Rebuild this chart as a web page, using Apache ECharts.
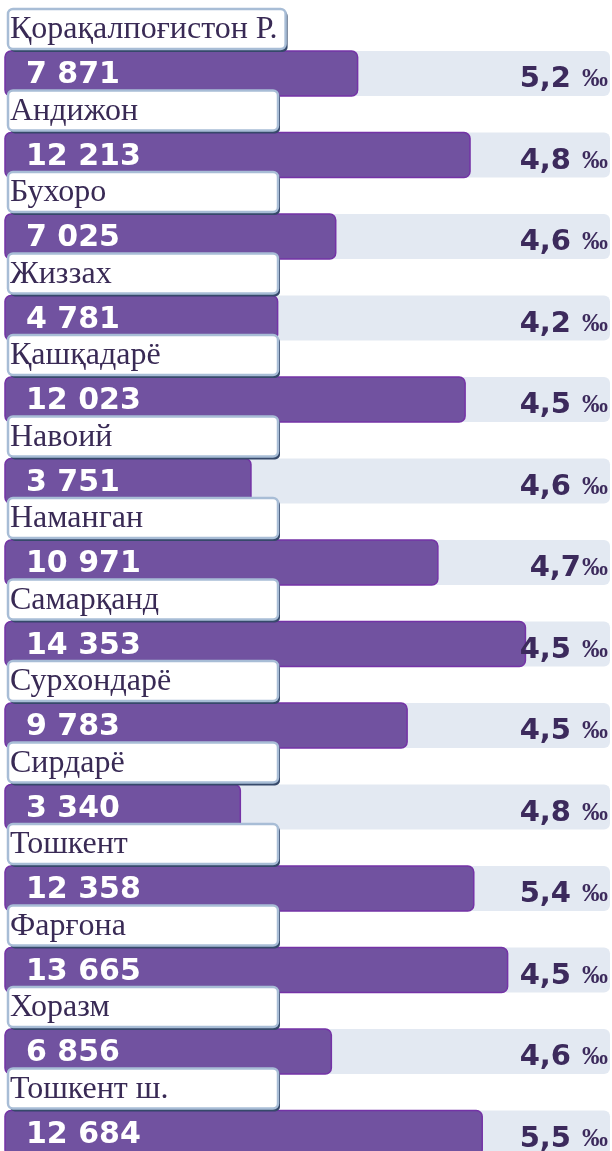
<!DOCTYPE html>
<html>
<head>
<meta charset="utf-8">
<script src="https://cdn.jsdelivr.net/npm/echarts@6/dist/echarts.min.js"></script>
<style>
  html, body { margin: 0; padding: 0; background: #fff; }
  #chart { width: 612px; height: 1151px; }
</style>
</head>
<body>
<div id="chart"></div>
<script>
// regions (top to bottom)
const regions = ['Қорақалпоғистон Р.', 'Андижон', 'Бухоро', 'Жиззах', 'Қашқадарё', 'Навоий', 'Наманган',
  'Самарқанд', 'Сурхондарё', 'Сирдарё', 'Тошкент', 'Фарғона', 'Хоразм', 'Тошкент ш.']
// absolute numbers shown inside the bars
const counts = [7871, 12213, 7025, 4781, 12023, 3751, 10971, 14353, 9783, 3340, 12358, 13665, 6856, 12684]
// per-mille rates on the right
const rates = ['5,2 ‰', '4,8 ‰', '4,6 ‰', '4,2 ‰', '4,5 ‰', '4,6 ‰', '4,7‰', '4,5 ‰', '4,5 ‰', '4,8 ‰',
  '5,4 ‰', '4,5 ‰', '4,6 ‰', '5,5 ‰']

const X_MIN = -5750
const X_MAX = 17620

const chart = echarts.init(document.getElementById('chart'))

const LABEL_FONT = '32px "Liberation Serif"'
const measure = document.createElement('canvas').getContext('2d')
measure.font = LABEL_FONT

function fmt(n) {
  return String(n).replace(/\B(?=(\d{3})+(?!\d))/g, ' ')
}

function renderItem(params, api) {
  const i = api.value(0)
  const v = api.value(1)
  const start = api.coord([X_MIN, i])
  const end = api.coord([v, i])
  const full = api.coord([X_MAX, i])
  const barH = 45
  const y0 = start[1] - barH / 2
  const boxW = Math.max(270, measure.measureText(regions[i]).width + 10)
  const spaced = /\s‰/.test(rates[i])
  const rich = rates[i].replace(/([\d,]+)\s?‰/, spaced ? '{a|$1}{b|‰}' : '{a|$1}{c|‰}')
  return {
    type: 'group',
    children: [
      {
        type: 'rect',
        shape: { x: start[0], y: y0, width: full[0] - start[0], height: barH, r: 6 },
        style: { fill: '#e3e9f2' },
      },
      {
        type: 'rect',
        shape: { x: start[0], y: y0, width: end[0] - start[0], height: barH, r: 6 },
        style: { fill: '#7152a0', stroke: '#7433a6', lineWidth: 1.5 },
      },
      {
        type: 'text',
        style: {
          text: fmt(v),
          x: start[0] + 21,
          y: start[1] + 2,
          verticalAlign: 'middle',
          fill: '#ffffff',
          font: 'bold 30px "DejaVu Sans"',
        },
      },
      {
        type: 'text',
        style: {
          text: rich,
          x: full[0] - 2,
          y: start[1] + 6,
          align: 'right',
          verticalAlign: 'middle',
          rich: {
            a: { fill: '#3c2a5c', font: 'bold 29px "DejaVu Sans"' },
            b: { fill: '#3c2a5c', font: 'bold 26px "Liberation Serif"', padding: [0, 0, 0, 11] },
            c: { fill: '#3c2a5c', font: 'bold 26px "Liberation Serif"', padding: [0, 0, 0, 1] },
          },
        },
      },
      {
        type: 'rect',
        shape: { x: start[0] + 5, y: y0 - 40, width: boxW, height: 41, r: 5 },
        style: { fill: '#36496a' },
      },
      {
        type: 'rect',
        shape: { x: start[0] + 3, y: y0 - 42, width: boxW, height: 40, r: 5 },
        style: { fill: '#ffffff', stroke: '#a8bdd6', lineWidth: 2.5 },
      },
      {
        type: 'text',
        style: {
          text: regions[i],
          x: start[0] + 5,
          y: y0 - 21,
          verticalAlign: 'middle',
          fill: '#392a55',
          font: LABEL_FONT,
        },
      },
    ],
  }
}

chart.setOption({
  backgroundColor: '#fff',
  animation: false,
  grid: { left: 5, right: 2, top: 73.5, height: 1059.5 },
  xAxis: { type: 'value', min: X_MIN, max: X_MAX, show: false },
  yAxis: { type: 'category', data: regions, inverse: true, boundaryGap: false, show: false },
  series: [
    {
      type: 'custom',
      clip: false,
      renderItem: renderItem,
      encode: { x: 1, y: 0 },
      data: counts.map((c, i) => [i, c]),
    },
  ],
})
</script>
</body>
</html>
